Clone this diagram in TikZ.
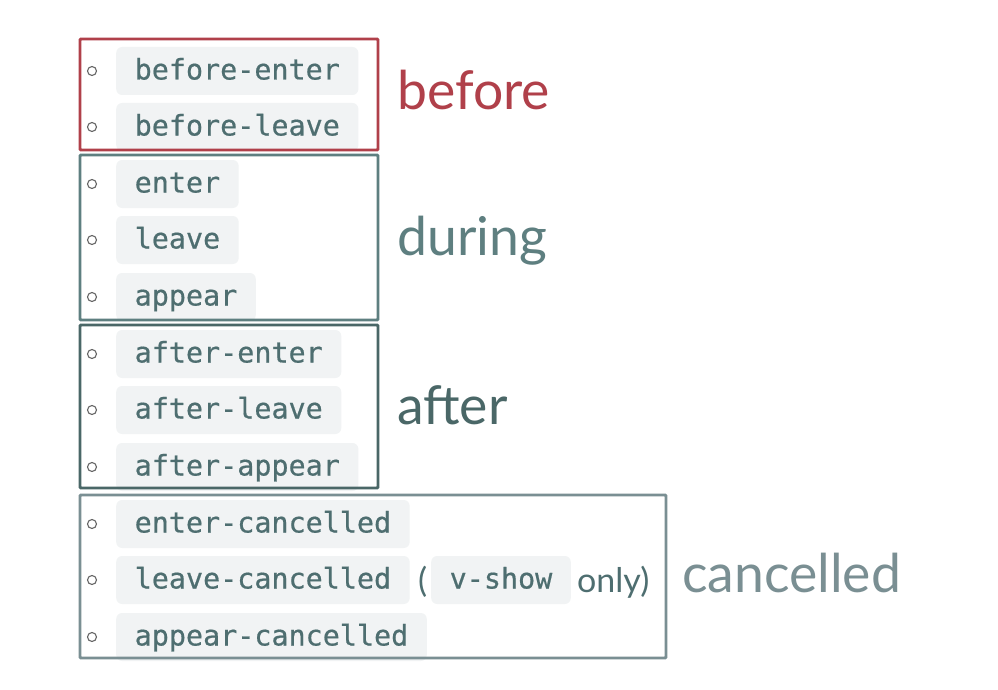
\documentclass[tikz,border=0pt]{standalone}
\usepackage{fontspec}
\setmainfont{Lato}
\newfontfamily\codefont[FakeBold=0.6]{DejaVu Sans Mono}
\definecolor{redc}{HTML}{B0404A}
\definecolor{durc}{HTML}{5E7F80}
\definecolor{aftc}{HTML}{4A6767}
\definecolor{canc}{HTML}{7A8F93}
\definecolor{codec}{HTML}{4E6E70}
\definecolor{chipc}{HTML}{F1F3F4}
\tikzset{
  chip/.style={fill=chipc, rounded corners=6pt, anchor=west, inner xsep=18.5pt, inner ysep=10.5pt,
    text height=22pt, text depth=5pt, font=\codefont\fontsize{28.4}{30}\selectfont, text=codec},
  bul/.style={circle, draw=gray!80!black, line width=1.1pt, minimum size=9pt, inner sep=0pt},
  grp/.style={line width=2.9pt, rounded corners=1pt},
  lbl/.style={anchor=base west, font=\fontsize{53.5}{58}\selectfont, inner sep=0pt},
  plain/.style={anchor=base west, inner sep=0pt, font=\fontsize{34}{36}\selectfont, text=codec}
}
\begin{document}
\begin{tikzpicture}[x=1pt,y=-1pt]
\useasboundingbox[fill=white] (0,0) rectangle (998,690);
% chips
\node[chip] (c1) at (116,71) {before-enter};
\node[chip] (c2) at (116,127) {before-leave};
\node[chip] (c3) at (116,184) {enter};
\node[chip] (c4) at (116,240) {leave};
\node[chip] (c5) at (116,297) {appear};
\node[chip] (c6) at (116,354) {after-enter};
\node[chip] (c7) at (116,410) {after-leave};
\node[chip] (c8) at (116,467) {after-appear};
\node[chip] (c9) at (116,524) {enter-cancelled};
\node[chip] (c10) at (116,580) {leave-cancelled};
\node[chip] (c11) at (116,637) {appear-cancelled};
\node[plain] (po) at (418,592) {(};
\node[chip] (vs) at (431,580) {v-show};
\node[plain] (on) at (577,592) {only)};
% bullets
\foreach \y [count=\i] in {71,127,184,240,297,354,410,467,524,580,637}
  \node[bul] (b\i) at (92,\y) {};
% group boxes
\draw[grp, draw=redc] (80,39) rectangle (378,150);
\draw[grp, draw=durc] (80,155) rectangle (378,320);
\draw[grp, draw=aftc] (80,325) rectangle (378,488);
\draw[grp, draw=canc] (80,495) rectangle (666,658);
% labels
\node[lbl, text=redc] (lb) at (397,110) {before};
\node[lbl, text=durc] (ld) at (397,255) {during};
\node[lbl, text=aftc] (la) at (397,424) {after};
\node[lbl, text=canc] (lc) at (682,592) {cancelled};
\end{tikzpicture}
\end{document}
